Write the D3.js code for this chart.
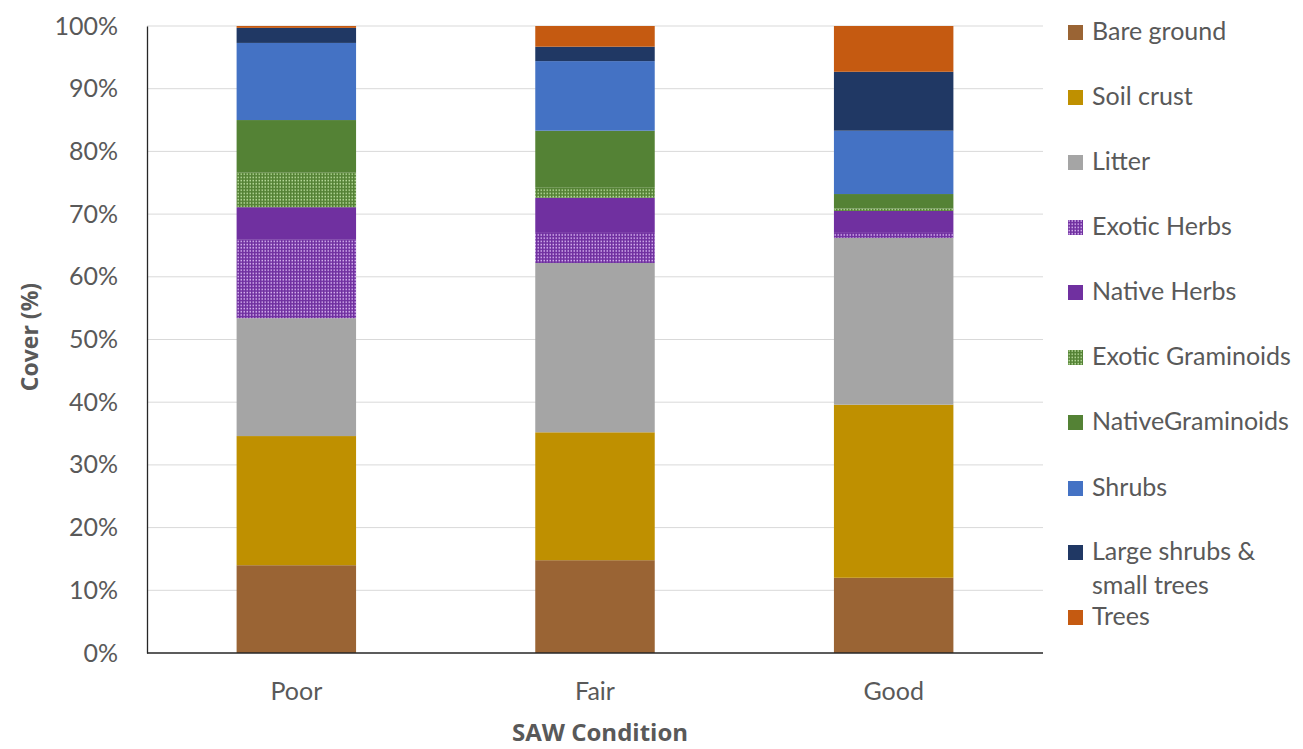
<!DOCTYPE html>
<html lang="en">
<head>
<meta charset="UTF-8">
<title>Cover by SAW Condition</title>
<script src="https://d3js.org/d3.v7.min.js"></script>
<style>
  body { margin: 0; background: #fff; }
  svg text { font-family: Lato, "Open Sans", sans-serif; fill: #595959; }
</style>
</head>
<body>
<svg id="chart" width="1303" height="749"></svg>
<script>
// categories and series (percent cover)
const conditions = ["Poor", "Fair", "Good"];
const series = ["Bare ground", "Soil crust", "Litter", "Exotic Herbs", "Native Herbs",
  "Exotic Graminoids", "NativeGraminoids", "Shrubs", "Large shrubs & small trees", "Trees"];
const bareGround       = [14.0, 14.8, 12.0];
const soilCrust        = [20.6, 20.4, 27.6];
const litter           = [18.8, 27.0, 26.6];
const exoticHerbs      = [12.5, 4.8, 0.8];
const nativeHerbs      = [5.2, 5.6, 3.5];
const exoticGraminoids = [5.5, 1.6, 0.4];
const nativeGraminoids = [8.4, 9.1, 2.3];
const shrubs           = [12.3, 11.1, 10.1];
const largeShrubs      = [2.4, 2.3, 9.4];
const trees            = [0.3, 3.3, 7.3];
const yTicks = [0, 10, 20, 30, 40, 50, 60, 70, 80, 90, 100];

const values = [bareGround, soilCrust, litter, exoticHerbs, nativeHerbs,
  exoticGraminoids, nativeGraminoids, shrubs, largeShrubs, trees];
const colors = ["#9a6434", "#bf9000", "#a5a5a5", "#7030a0", "#7030a0",
  "#548235", "#548235", "#4472c4", "#203864", "#c55a11"];
const dotted = { "Exotic Herbs": "#d7b4f0", "Exotic Graminoids": "#b9dc9c" };

const margin = { top: 26, right: 260, bottom: 96, left: 147 };
const width = 1303, height = 749;
const fontSize = 25;

const svg = d3.select("#chart");

// dotted fills
const defs = svg.append("defs");
series.forEach((s, i) => {
  if (!dotted[s]) return;
  const p = defs.append("pattern")
    .attr("id", "pat" + i)
    .attr("patternUnits", "userSpaceOnUse")
    .attr("width", 3).attr("height", 3.2);
  p.append("rect").attr("width", 3).attr("height", 3.2).attr("fill", colors[i]);
  p.append("rect").attr("x", 0.5).attr("y", 0.6).attr("width", 1.5).attr("height", 1.5)
    .attr("fill", dotted[s]);
});
const fillOf = i => dotted[series[i]] ? `url(#pat${i})` : colors[i];

// table for the stack
const table = conditions.map((c, j) => {
  const row = { condition: c };
  series.forEach((s, i) => row[s] = values[i][j]);
  return row;
});
const stacked = d3.stack().keys(series)(table);

const x = d3.scaleBand()
  .domain(conditions)
  .range([margin.left, 1043])
  .paddingInner(0.6)
  .paddingOuter(0.3);

const y = d3.scaleLinear()
  .domain([0, 100])
  .range([653, margin.top]);

// gridlines
svg.append("g")
  .selectAll("line")
  .data(yTicks.slice(1))
  .join("line")
  .attr("x1", margin.left).attr("x2", 1043)
  .attr("y1", d => y(d)).attr("y2", d => y(d))
  .attr("stroke", "#d9d9d9").attr("stroke-width", 1);

// bars
svg.append("g")
  .selectAll("g")
  .data(stacked)
  .join("g")
  .attr("fill", (d, i) => fillOf(i))
  .selectAll("rect")
  .data(d => d)
  .join("rect")
  .attr("x", d => x(d.data.condition))
  .attr("y", d => y(d[1]))
  .attr("height", d => y(d[0]) - y(d[1]))
  .attr("width", x.bandwidth());

// y axis
const yAxis = svg.append("g")
  .attr("transform", `translate(${margin.left},0)`)
  .call(d3.axisLeft(y).tickValues(yTicks).tickFormat(d => d + "%").tickSize(0).tickPadding(29));
yAxis.select(".domain").attr("stroke", "#262626").attr("stroke-width", 1.3);
yAxis.selectAll("text").attr("font-size", fontSize).attr("fill", "#595959")
  .style("font-family", "Lato, 'Open Sans', sans-serif");

// x axis
const xAxis = svg.append("g")
  .attr("transform", `translate(0,653)`)
  .call(d3.axisBottom(x).tickSize(0).tickPadding(29));
xAxis.select(".domain").attr("d", `M${margin.left},0H1043`).attr("stroke", "#262626").attr("stroke-width", 1.3);
xAxis.selectAll("text").attr("font-size", fontSize).attr("fill", "#595959")
  .style("font-family", "Lato, 'Open Sans', sans-serif");

// axis titles
svg.append("text")
  .attr("x", 600).attr("y", 741)
  .attr("text-anchor", "middle")
  .attr("font-size", 24).attr("font-weight", "bold")
  .style("font-family", "'Open Sans', sans-serif")
  .text("SAW Condition");

svg.append("text")
  .attr("transform", "translate(38,337) rotate(-90)")
  .attr("text-anchor", "middle")
  .attr("font-size", 23).attr("font-weight", "bold")
  .style("font-family", "'Open Sans', sans-serif")
  .text("Cover (%)");

// legend
const legendY = [31, 96, 161, 226, 291, 356, 421, 487, 551, 616];
const legend = svg.append("g");
series.forEach((s, i) => {
  const g = legend.append("g").attr("transform", `translate(1068,${legendY[i]})`);
  g.append("rect").attr("x", 0).attr("y", -6).attr("width", 15).attr("height", 15)
    .attr("fill", fillOf(i));
  const t = g.append("text").attr("x", 24).attr("y", 9).attr("font-size", fontSize);
  if (s === "Large shrubs & small trees") {
    t.append("tspan").attr("x", 24).text("Large shrubs &");
    t.append("tspan").attr("x", 24).attr("dy", 34).text("small trees");
  } else {
    t.text(s);
  }
});
</script>
</body>
</html>
